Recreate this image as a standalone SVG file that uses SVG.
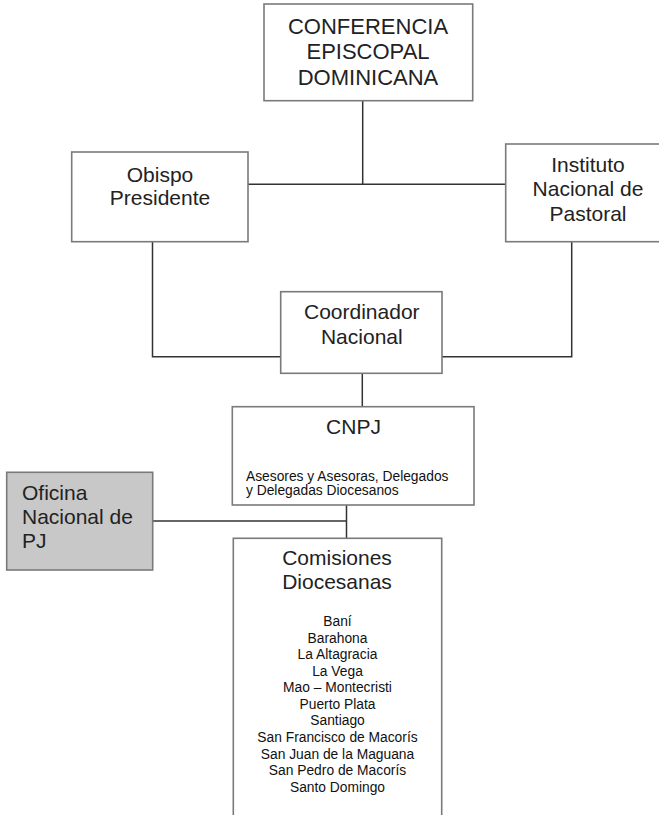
<svg xmlns="http://www.w3.org/2000/svg" width="659" height="815" viewBox="0 0 659 815">
<style>
.box{fill:#ffffff;stroke:#7a7a7a;stroke-width:1.6}
.gray{fill:#c8c8c8}
.t{font-family:"Liberation Sans",Arial,sans-serif;font-size:21px;fill:#222;text-anchor:middle}
.s{font-family:"Liberation Sans",Arial,sans-serif;font-size:13.8px;fill:#111}
.c{text-anchor:middle}
.ln{stroke:#333;stroke-width:1.5;fill:none}
</style>
<rect width="659" height="815" fill="#ffffff"/>
<g id="connectors">
<path class="ln" d="M362.7,101 V184.3 M248,184.3 H506"/>
<path class="ln" d="M152.5,242 V356.7 H281"/>
<path class="ln" d="M571.7,242 V356.7 H442"/>
<path class="ln" d="M362.3,373.3 V406.7"/>
<path class="ln" d="M346.5,505 V538.3"/>
<path class="ln" d="M152.7,521 H346.5"/>
</g>
<g id="conferencia">
<rect class="box" x="264" y="4" width="208.7" height="96.7"/>
<text class="t" x="368" y="33.5" style="font-size:22px">CONFERENCIA</text>
<text class="t" x="368" y="58.5" style="font-size:22px">EPISCOPAL</text>
<text class="t" x="368" y="85" style="font-size:22px">DOMINICANA</text>
</g>
<g id="obispo">
<rect class="box" x="71.7" y="152" width="176.3" height="89.7"/>
<text class="t" x="160" y="181.7">Obispo</text>
<text class="t" x="160" y="205">Presidente</text>
</g>
<g id="instituto">
<rect class="box" x="505.7" y="144" width="165" height="97.7"/>
<text class="t" x="588" y="171.7">Instituto</text>
<text class="t" x="588" y="196">Nacional de</text>
<text class="t" x="588" y="220.7">Pastoral</text>
</g>
<g id="coordinador">
<rect class="box" x="280.7" y="291.7" width="161.3" height="81.6"/>
<text class="t" x="361.8" y="319.3">Coordinador</text>
<text class="t" x="361.8" y="344">Nacional</text>
</g>
<g id="cnpj">
<rect class="box" x="232.3" y="406.7" width="241.7" height="98.3"/>
<text class="t" x="353.5" y="434">CNPJ</text>
<text class="s" x="246" y="481">Asesores y Asesoras, Delegados</text>
<text class="s" x="246" y="495">y Delegadas Diocesanos</text>
</g>
<g id="oficina">
<rect class="box gray" x="6.7" y="472.3" width="146" height="97.7"/>
<text class="t" x="22" y="500" style="text-anchor:start">Oficina</text>
<text class="t" x="22" y="524.3" style="text-anchor:start">Nacional de</text>
<text class="t" x="22" y="548.3" style="text-anchor:start">PJ</text>
</g>
<g id="comisiones">
<rect class="box" x="233.3" y="538.3" width="208.4" height="300"/>
<text class="t" x="337" y="565">Comisiones</text>
<text class="t" x="337" y="589.3">Diocesanas</text>
<text class="s c" x="337.5" y="626">Baní</text>
<text class="s c" x="337.5" y="642.6">Barahona</text>
<text class="s c" x="337.5" y="659.1">La Altagracia</text>
<text class="s c" x="337.5" y="675.7">La Vega</text>
<text class="s c" x="337.5" y="692.3">Mao – Montecristi</text>
<text class="s c" x="337.5" y="708.9">Puerto Plata</text>
<text class="s c" x="337.5" y="725.4">Santiago</text>
<text class="s c" x="337.5" y="742">San Francisco de Macorís</text>
<text class="s c" x="337.5" y="758.6">San Juan de la Maguana</text>
<text class="s c" x="337.5" y="775.1">San Pedro de Macorís</text>
<text class="s c" x="337.5" y="791.7">Santo Domingo</text>
</g>
</svg>
